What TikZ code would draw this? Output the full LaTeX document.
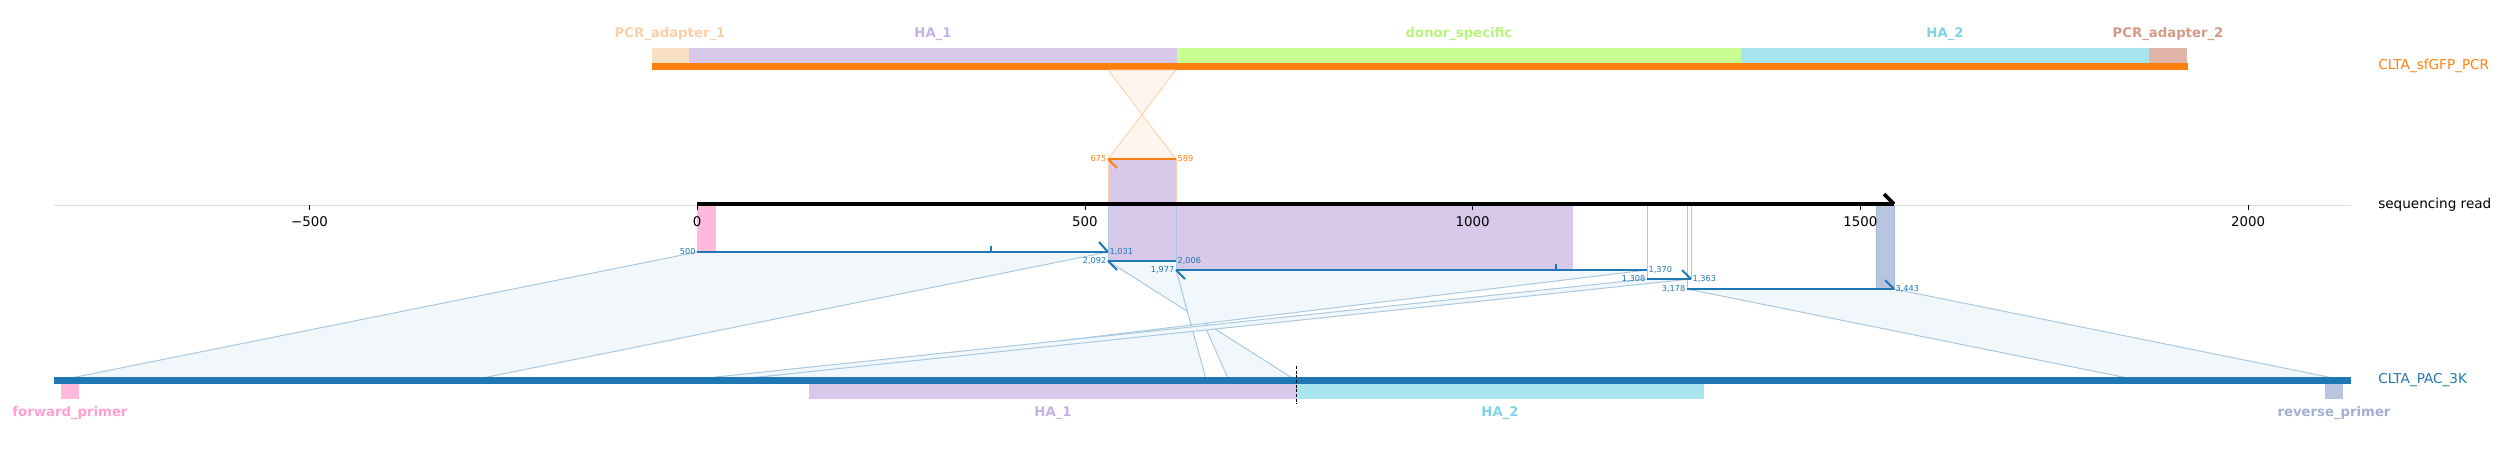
\documentclass[tikz,border=0pt]{standalone}
\usepackage{fontspec}
\setmainfont{DejaVu Sans}
\usetikzlibrary{arrows.meta}
\usepackage{xcolor}
\definecolor{tabblue}{HTML}{1F77B4}
\definecolor{taborange}{HTML}{FF7F0E}
\definecolor{adaptAfill}{HTML}{F9E0C3}
\definecolor{adaptAtext}{HTML}{F9CFA6}
\definecolor{haAfill}{HTML}{D8C8EA}
\definecolor{haAtext}{HTML}{C5B1E3}
\definecolor{donorfill}{HTML}{C8FE92}
\definecolor{donortext}{HTML}{B6F47A}
\definecolor{haBfill}{HTML}{A9E5EF}
\definecolor{haBtext}{HTML}{80D3E6}
\definecolor{adaptBfill}{HTML}{E2B5A9}
\definecolor{adaptBtext}{HTML}{D59A86}
\definecolor{fwdfill}{HTML}{FFB9DD}
\definecolor{fwdtext}{HTML}{FF9ED2}
\definecolor{revfill}{HTML}{B9C4DF}
\definecolor{revtext}{HTML}{A3AED2}
\definecolor{wedgefill}{HTML}{F2F7FB}
\definecolor{wedgeline}{HTML}{A8C9E2}
\definecolor{crossfill}{HTML}{FFF5EC}
\definecolor{crossline}{HTML}{FDD2AE}
\definecolor{axisgray}{HTML}{DCDCDC}

\begin{document}
\begin{tikzpicture}[x=0.03cm, y=-0.03cm,
  featlabel/.style={font=\fontsize{11.3}{12}\selectfont\bfseries, inner sep=0pt},
  reflabel/.style={font=\fontsize{11.6}{13}\selectfont, anchor=west, inner sep=0pt},
  ticklabel/.style={font=\fontsize{11.4}{12}\selectfont, inner sep=0pt},
  poslabel/.style={font=\fontsize{7}{8}\selectfont, text=tabblue, inner sep=1.2pt},
  alnline/.style={draw=tabblue, line width=1.7pt},
  wedge/.style={fill=wedgefill, draw=wedgeline, line width=0.85pt},
  edgeline/.style={draw=wedgeline, line width=0.85pt},
]
\useasboundingbox (0,0) rectangle (2504,448);

% === Donor (top) ===
\fill[adaptAfill] (652,48) rectangle (689,63.3);
\fill[haAfill] (689,48) rectangle (1177,63.3);
\fill[donorfill] (1177,48) rectangle (1741,63.3);
\fill[haBfill] (1741,48) rectangle (2149,63.3);
\fill[adaptBfill] (2149,48) rectangle (2187,63.3);
\fill[taborange] (652,63.3) rectangle (2188,70);

\node[featlabel, text=adaptAtext] (topAdaptA) at (670,34) {PCR\_adapter\_1};
\node[featlabel, text=haAtext] (topHaA) at (933,34) {HA\_1};
\node[featlabel, text=donortext] (topDonor) at (1459,34) {donor\_specific};
\node[featlabel, text=haBtext] (topHaB) at (1945,34) {HA\_2};
\node[featlabel, text=adaptBtext] (topAdaptB) at (2168,34) {PCR\_adapter\_2};
\node[reflabel, text=taborange] (donorName) at (2378,66) {CLTA\_sfGFP\_PCR};

% donor -> read (reverse)
\filldraw[fill=crossfill, draw=crossline, line width=0.85pt]
  (1108,159) -- (1176,159) -- (1108,70) -- (1176,70) -- cycle;

% === Read -> target wedges ===
\filldraw[wedge] (697.2,252) -- (1108,252) -- (472.7,380) -- (61,380) -- cycle;
\filldraw[wedge] (1108,261) -- (1176,261) -- (1228.7,380) -- (1295.4,380) -- cycle;
\filldraw[wedge] (1176,270) -- (1647,270) -- (735.6,380) -- (1206.3,380) -- cycle;
\filldraw[wedge] (1647,279) -- (1691,279) -- (730.2,380) -- (687.5,380) -- cycle;
\filldraw[wedge] (1687,289) -- (1894,289) -- (2343,380) -- (2137.5,380) -- cycle;

% === Features on the read ===
\fill[haAfill] (1108,159) rectangle (1176,261);
\fill[haAfill] (1176,205) rectangle (1573,270);
\fill[fwdfill] (697.2,205) rectangle (716,252);
\filldraw[fill=revfill, draw=revfill!85!tabblue, line width=0.6pt] (1876,205) rectangle (1894,289);

% alignment edges
\draw[crossline, line width=0.85pt] (1108,159) -- (1108,205);
\draw[crossline, line width=0.85pt] (1176,159) -- (1176,205);
\draw[edgeline] (1108,205) -- (1108,261);
\draw[edgeline] (1176,205) -- (1176,270);
\draw[edgeline] (1647,205) -- (1647,279);
\draw[edgeline] (1691,205) -- (1691,279);
\draw[edgeline] (1687,205) -- (1687,289);

% === Read axis ===
\draw[axisgray, line width=0.8pt] (54,205) -- (2351,205);
\foreach \tx/\tl in {309.5/−500, 697.2/0, 1084.9/500, 1472.6/1000, 1860.3/1500, 2248/2000} {
  \draw[black, line width=0.7pt] (\tx,205) -- (\tx,210);
  \node[ticklabel] at (\tx,221.5) {\tl};
}
\draw[black, line width=3.1pt] (697.2,204) -- (1894,204);
\draw[black, line width=3.1pt] (1894,204) -- (1884,194);
\node[reflabel, text=black] (readName) at (2378,205) {sequencing read};

% === Alignments ===
\draw[taborange, line width=1.7pt] (1108,159) -- (1176,159);
\draw[taborange, line width=1.7pt] (1108,159) -- (1117,168);
\node[poslabel, text=taborange, anchor=east] (donorL) at (1108,159) {675};
\node[poslabel, text=taborange, anchor=west] (donorR) at (1176,159) {589};

\draw[alnline] (697.2,252) -- (1108,252);
\draw[alnline] (1108,252) -- (1099,242);
\draw[tabblue, line width=1.2pt] (991,246) -- (991,252);
\node[poslabel, anchor=east] (alnAL) at (697.2,252) {500};
\node[poslabel, anchor=west] (alnAR) at (1108,252) {1,031};

\draw[alnline] (1108,261) -- (1176,261);
\draw[alnline] (1108,261) -- (1117,270);
\node[poslabel, anchor=east] (alnBL) at (1108,261) {2,092};
\node[poslabel, anchor=west] (alnBR) at (1176,261) {2,006};

\draw[alnline] (1176,270) -- (1647,270);
\draw[alnline] (1176,270) -- (1185,279);
\draw[tabblue, line width=1.2pt] (1556,264) -- (1556,270);
\node[poslabel, anchor=east] (alnCL) at (1176,270) {1,977};
\node[poslabel, anchor=west] (alnCR) at (1647,270) {1,370};

\draw[alnline] (1647,279) -- (1691,279);
\draw[alnline] (1691,279) -- (1682,270);
\node[poslabel, anchor=east] (alnDL) at (1647,279) {1,308};
\node[poslabel, anchor=west] (alnDR) at (1691,279) {1,363};

\draw[alnline] (1687,289) -- (1894,289);
\draw[alnline] (1894,289) -- (1885,280);
\node[poslabel, anchor=east] (alnEL) at (1687,289) {3,178};
\node[poslabel, anchor=west] (alnER) at (1894,289) {3,443};

% === Target (bottom) ===
\fill[tabblue] (54,377) rectangle (2351,384);
\fill[fwdfill] (61,384) rectangle (79,399);
\fill[haAfill] (809,384) rectangle (1297,399);
\fill[haBfill] (1297,384) rectangle (1704,399);
\fill[revfill] (2325,384) rectangle (2343,399);
\draw[black, line width=0.8pt, dash pattern=on 2.5pt off 1.5pt] (1296,366) -- (1296,404);

\node[featlabel, text=fwdtext] (botFwd) at (70,413) {forward\_primer};
\node[featlabel, text=haAtext] (botHaA) at (1053,413) {HA\_1};
\node[featlabel, text=haBtext] (botHaB) at (1500,413) {HA\_2};
\node[featlabel, text=revtext] (botRev) at (2334,413) {reverse\_primer};
\node[reflabel, text=tabblue] (targetName) at (2378,380) {CLTA\_PAC\_3K};
\end{tikzpicture}
\end{document}
